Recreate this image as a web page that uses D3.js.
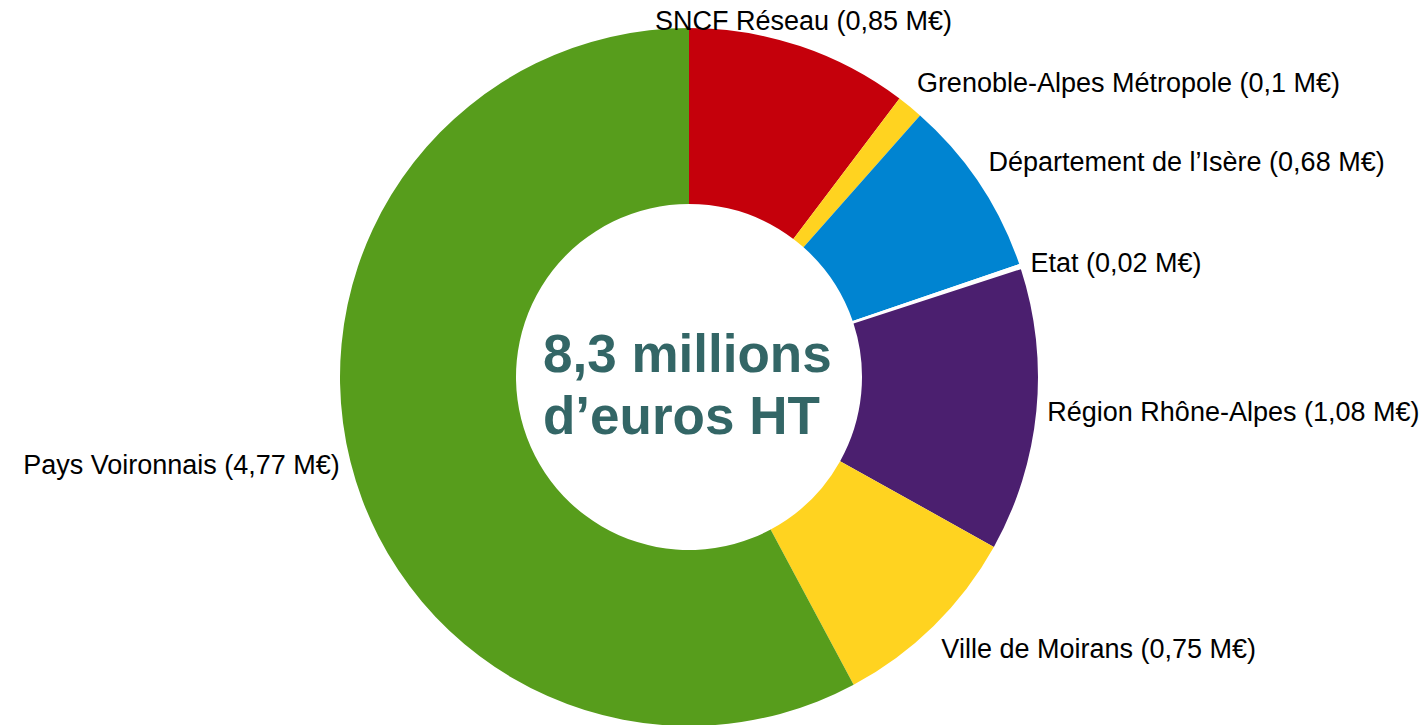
<!DOCTYPE html>
<html lang="fr">
<head>
<meta charset="UTF-8" />
<title>Financement - 8,3 millions d'euros HT</title>
<script src="https://d3js.org/d3.v7.min.js"></script>
<style>
  body { margin: 0; background: #ffffff; }
  .label { font-family: 'Liberation Sans', Arial, sans-serif; font-size: 27px; fill: #000000; }
  .center-text { font-family: 'Liberation Sans', Arial, sans-serif; font-weight: bold; font-size: 53px; fill: #336666; }
</style>
</head>
<body>
<svg id="chart"></svg>
<script>
  // Data
  const funders = ["SNCF Réseau", "Grenoble-Alpes Métropole", "Département de l\u2019Isère", "Etat",
                   "Région Rhône-Alpes", "Ville de Moirans", "Pays Voironnais"];
  const amounts = [0.85, 0.1, 0.68, 0.02, 1.08, 0.75, 4.77];
  const amountLabels = ["0,85", "0,1", "0,68", "0,02", "1,08", "0,75", "4,77"];
  const sliceColors = ["#c5000b", "#ffd320", "#0084d1", "#ffffff", "#4b1f6f", "#ffd320", "#579d1c"];
  const centerLines = ["8,3 millions", "d\u2019euros HT"];

  const W = 1426, H = 725;
  const cx = 689, cy = 377;
  const outerR = 349, innerR = 173;

  const svg = d3.select("#chart").attr("width", W).attr("height", H);
  const g = svg.append("g").attr("transform", "translate(" + cx + "," + cy + ")");

  const data = funders.map((f, i) => ({ name: f, value: amounts[i], text: amountLabels[i], color: sliceColors[i] }));

  const pie = d3.pie().value(d => d.value).sort(null);
  const arc = d3.arc().innerRadius(innerR).outerRadius(outerR);
  const arcs = pie(data);

  g.selectAll("path.slice")
    .data(arcs)
    .enter()
    .append("path")
    .attr("class", "slice")
    .attr("d", arc)
    .attr("fill", d => d.data.color);

  // labels placed like LibreOffice: anchor depends on the 45° sector of the mid angle
  const labelR = outerR + 11;
  arcs.forEach(d => {
    const a = (d.startAngle + d.endAngle) / 2;
    const px = labelR * Math.sin(a), py = -labelR * Math.cos(a);
    const deg = (a * 180 / Math.PI + 360) % 360;
    const sector = Math.round(deg / 45) % 8;
    const hAnchor = [1, 2, 2, 2, 1, 0, 0, 0][sector];   // 0 end, 1 middle, 2 start
    const vAnchor = [0, 0, 1, 2, 2, 2, 1, 0][sector];   // 0 bottom, 1 middle, 2 top
    g.append("text")
      .attr("class", "label")
      .attr("x", px)
      .attr("y", py)
      .attr("dy", [-6, 9, 24][vAnchor])
      .attr("text-anchor", ["end", "middle", "start"][hAnchor])
      .text(d.data.name + " (" + d.data.text + " M\u20ac)");
  });

  // centre text, left aligned block
  const ct = g.append("text").attr("class", "center-text").attr("text-anchor", "start");
  centerLines.forEach((line, i) => {
    ct.append("tspan").attr("x", -146).attr("y", -5 + i * 62).text(line);
  });
</script>
</body>
</html>
